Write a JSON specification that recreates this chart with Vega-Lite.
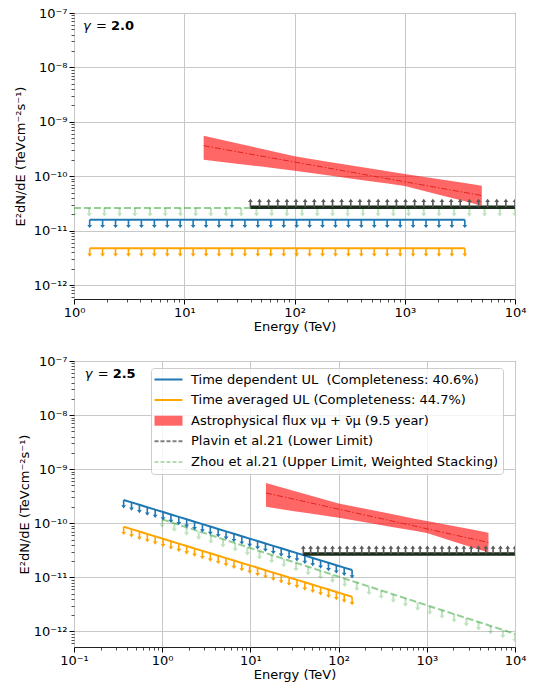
{
"$schema": "https://vega.github.io/schema/vega-lite/v6.json",
"padding": {"left": 13, "top": 6, "right": 5, "bottom": 5},
"spacing": 20,
"align": "none",
"config": {
  "font": "DejaVu Sans",
  "view": {"stroke": "#222222", "strokeWidth": 1},
  "axis": {"labelFont": "DejaVu Sans", "labelFontSize": 13, "labelColor": "#000000", "titleFont": "DejaVu Sans", "titleFontSize": 13, "titleFontWeight": "normal", "titleColor": "#000000", "domain": false, "tickColor": "#000000", "gridColor": "#c8c8c8", "gridWidth": 1, "labelFlush": false, "labelOverlap": false, "labelBound": false}
},
"resolve": {"scale": {"x": "independent", "y": "independent", "color": "independent"}},
"datasets": {
  "band": [
    {"E": 15, "F": 5.55e-10, "lo": 2.01e-10},
    {"E": 30, "F": 4.04e-10, "lo": 1.69e-10},
    {"E": 50, "F": 3.19e-10, "lo": 1.50e-10},
    {"E": 100, "F": 2.32e-10, "lo": 1.26e-10},
    {"E": 200, "F": 1.85e-10, "lo": 1.04e-10},
    {"E": 400, "F": 1.48e-10, "lo": 8.55e-11},
    {"E": 700, "F": 1.23e-10, "lo": 7.31e-11},
    {"E": 1000, "F": 1.10e-10, "lo": 6.61e-11},
    {"E": 2000, "F": 8.87e-11, "lo": 4.61e-11},
    {"E": 3500, "F": 7.47e-11, "lo": 3.45e-11},
    {"E": 5000, "F": 6.68e-11, "lo": 2.87e-11}
  ],
  "mid": [
    {"E": 15, "F": 3.63e-10},
    {"E": 5000, "F": 4.41e-11}
  ],
  "top": [
    {"s":"td","E":1.387,"F":1.585e-11},{"s":"td","E":1.817,"F":1.585e-11},{"s":"td","E":2.381,"F":1.585e-11},{"s":"td","E":3.119,"F":1.585e-11},{"s":"td","E":4.087,"F":1.585e-11},{"s":"td","E":5.355,"F":1.585e-11},{"s":"td","E":7.015,"F":1.585e-11},{"s":"td","E":9.192,"F":1.585e-11},{"s":"td","E":12.04,"F":1.585e-11},{"s":"td","E":15.78,"F":1.585e-11},{"s":"td","E":20.67,"F":1.585e-11},{"s":"td","E":27.08,"F":1.585e-11},{"s":"td","E":35.49,"F":1.585e-11},{"s":"td","E":46.49,"F":1.585e-11},{"s":"td","E":60.93,"F":1.585e-11},{"s":"td","E":79.83,"F":1.585e-11},{"s":"td","E":104.6,"F":1.585e-11},{"s":"td","E":137.1,"F":1.585e-11},{"s":"td","E":179.6,"F":1.585e-11},{"s":"td","E":235.3,"F":1.585e-11},{"s":"td","E":308.3,"F":1.585e-11},{"s":"td","E":403.7,"F":1.585e-11},{"s":"td","E":529.1,"F":1.585e-11},{"s":"td","E":693.1,"F":1.585e-11},{"s":"td","E":908.3,"F":1.585e-11},{"s":"td","E":1190,"F":1.585e-11},{"s":"td","E":1559,"F":1.585e-11},{"s":"td","E":2043,"F":1.585e-11},{"s":"td","E":2676,"F":1.585e-11},{"s":"td","E":3507,"F":1.585e-11},
    {"s":"ta","E":1.387,"F":4.73e-12},{"s":"ta","E":1.817,"F":4.73e-12},{"s":"ta","E":2.381,"F":4.73e-12},{"s":"ta","E":3.119,"F":4.73e-12},{"s":"ta","E":4.087,"F":4.73e-12},{"s":"ta","E":5.355,"F":4.73e-12},{"s":"ta","E":7.015,"F":4.73e-12},{"s":"ta","E":9.192,"F":4.73e-12},{"s":"ta","E":12.04,"F":4.73e-12},{"s":"ta","E":15.78,"F":4.73e-12},{"s":"ta","E":20.67,"F":4.73e-12},{"s":"ta","E":27.08,"F":4.73e-12},{"s":"ta","E":35.49,"F":4.73e-12},{"s":"ta","E":46.49,"F":4.73e-12},{"s":"ta","E":60.93,"F":4.73e-12},{"s":"ta","E":79.83,"F":4.73e-12},{"s":"ta","E":104.6,"F":4.73e-12},{"s":"ta","E":137.1,"F":4.73e-12},{"s":"ta","E":179.6,"F":4.73e-12},{"s":"ta","E":235.3,"F":4.73e-12},{"s":"ta","E":308.3,"F":4.73e-12},{"s":"ta","E":403.7,"F":4.73e-12},{"s":"ta","E":529.1,"F":4.73e-12},{"s":"ta","E":693.1,"F":4.73e-12},{"s":"ta","E":908.3,"F":4.73e-12},{"s":"ta","E":1190,"F":4.73e-12},{"s":"ta","E":1559,"F":4.73e-12},{"s":"ta","E":2043,"F":4.73e-12},{"s":"ta","E":2676,"F":4.73e-12},{"s":"ta","E":3507,"F":4.73e-12},
    {"s":"zhou","E":1,"F":2.6e-11},{"s":"zhou","E":1.374,"F":2.6e-11},{"s":"zhou","E":1.888,"F":2.6e-11},{"s":"zhou","E":2.593,"F":2.6e-11},{"s":"zhou","E":3.563,"F":2.6e-11},{"s":"zhou","E":4.894,"F":2.6e-11},{"s":"zhou","E":6.723,"F":2.6e-11},{"s":"zhou","E":9.237,"F":2.6e-11},{"s":"zhou","E":12.69,"F":2.6e-11},{"s":"zhou","E":17.43,"F":2.6e-11},{"s":"zhou","E":23.95,"F":2.6e-11},{"s":"zhou","E":32.90,"F":2.6e-11},{"s":"zhou","E":45.20,"F":2.6e-11},{"s":"zhou","E":62.10,"F":2.6e-11},{"s":"zhou","E":85.31,"F":2.6e-11},{"s":"zhou","E":117.2,"F":2.6e-11},{"s":"zhou","E":161.0,"F":2.6e-11},{"s":"zhou","E":221.2,"F":2.6e-11},{"s":"zhou","E":303.9,"F":2.6e-11},{"s":"zhou","E":417.5,"F":2.6e-11},{"s":"zhou","E":573.6,"F":2.6e-11},{"s":"zhou","E":788.0,"F":2.6e-11},{"s":"zhou","E":1083,"F":2.6e-11},{"s":"zhou","E":1487,"F":2.6e-11},{"s":"zhou","E":2043,"F":2.6e-11},{"s":"zhou","E":2807,"F":2.6e-11},{"s":"zhou","E":3857,"F":2.6e-11},{"s":"zhou","E":5298,"F":2.6e-11},{"s":"zhou","E":7279,"F":2.6e-11},{"s":"zhou","E":10000,"F":2.6e-11},
    {"s":"plavin","E":39.81,"F":2.7e-11},{"s":"plavin","E":48.18,"F":2.7e-11},{"s":"plavin","E":58.29,"F":2.7e-11},{"s":"plavin","E":70.52,"F":2.7e-11},{"s":"plavin","E":85.31,"F":2.7e-11},{"s":"plavin","E":103.2,"F":2.7e-11},{"s":"plavin","E":124.9,"F":2.7e-11},{"s":"plavin","E":151.1,"F":2.7e-11},{"s":"plavin","E":182.9,"F":2.7e-11},{"s":"plavin","E":221.2,"F":2.7e-11},{"s":"plavin","E":267.7,"F":2.7e-11},{"s":"plavin","E":323.8,"F":2.7e-11},{"s":"plavin","E":391.8,"F":2.7e-11},{"s":"plavin","E":474.1,"F":2.7e-11},{"s":"plavin","E":573.6,"F":2.7e-11},{"s":"plavin","E":694.0,"F":2.7e-11},{"s":"plavin","E":839.7,"F":2.7e-11},{"s":"plavin","E":1016,"F":2.7e-11},{"s":"plavin","E":1229,"F":2.7e-11},{"s":"plavin","E":1487,"F":2.7e-11},{"s":"plavin","E":1799,"F":2.7e-11},{"s":"plavin","E":2177,"F":2.7e-11},{"s":"plavin","E":2634,"F":2.7e-11},{"s":"plavin","E":3187,"F":2.7e-11},{"s":"plavin","E":3857,"F":2.7e-11},{"s":"plavin","E":4667,"F":2.7e-11},{"s":"plavin","E":5646,"F":2.7e-11},{"s":"plavin","E":6832,"F":2.7e-11},{"s":"plavin","E":8266,"F":2.7e-11},{"s":"plavin","E":10000,"F":2.7e-11}
  ],
  "bot": [
    {"s":"td","E":0.3656,"F":2.692e-10},{"s":"td","E":0.4491,"F":2.428e-10},{"s":"td","E":0.5516,"F":2.191e-10},{"s":"td","E":0.6775,"F":1.977e-10},{"s":"td","E":0.8322,"F":1.784e-10},{"s":"td","E":1.022,"F":1.609e-10},{"s":"td","E":1.256,"F":1.452e-10},{"s":"td","E":1.542,"F":1.310e-10},{"s":"td","E":1.895,"F":1.182e-10},{"s":"td","E":2.327,"F":1.067e-10},{"s":"td","E":2.858,"F":9.626e-11},{"s":"td","E":3.511,"F":8.685e-11},{"s":"td","E":4.313,"F":7.837e-11},{"s":"td","E":5.297,"F":7.071e-11},{"s":"td","E":6.507,"F":6.380e-11},{"s":"td","E":7.992,"F":5.757e-11},{"s":"td","E":9.817,"F":5.194e-11},{"s":"td","E":12.06,"F":4.687e-11},{"s":"td","E":14.81,"F":4.229e-11},{"s":"td","E":18.19,"F":3.816e-11},{"s":"td","E":22.35,"F":3.443e-11},{"s":"td","E":27.45,"F":3.106e-11},{"s":"td","E":33.72,"F":2.803e-11},{"s":"td","E":41.42,"F":2.529e-11},{"s":"td","E":50.87,"F":2.282e-11},{"s":"td","E":62.49,"F":2.059e-11},{"s":"td","E":76.76,"F":1.858e-11},{"s":"td","E":94.27,"F":1.676e-11},{"s":"td","E":115.8,"F":1.512e-11},{"s":"td","E":142.2,"F":1.365e-11},
    {"s":"ta","E":0.3656,"F":8.63e-11},{"s":"ta","E":0.4491,"F":7.784e-11},{"s":"ta","E":0.5516,"F":7.024e-11},{"s":"ta","E":0.6775,"F":6.338e-11},{"s":"ta","E":0.8322,"F":5.719e-11},{"s":"ta","E":1.022,"F":5.160e-11},{"s":"ta","E":1.256,"F":4.655e-11},{"s":"ta","E":1.542,"F":4.200e-11},{"s":"ta","E":1.895,"F":3.789e-11},{"s":"ta","E":2.327,"F":3.420e-11},{"s":"ta","E":2.858,"F":3.086e-11},{"s":"ta","E":3.511,"F":2.784e-11},{"s":"ta","E":4.313,"F":2.513e-11},{"s":"ta","E":5.297,"F":2.267e-11},{"s":"ta","E":6.507,"F":2.045e-11},{"s":"ta","E":7.992,"F":1.846e-11},{"s":"ta","E":9.817,"F":1.665e-11},{"s":"ta","E":12.06,"F":1.503e-11},{"s":"ta","E":14.81,"F":1.356e-11},{"s":"ta","E":18.19,"F":1.223e-11},{"s":"ta","E":22.35,"F":1.104e-11},{"s":"ta","E":27.45,"F":9.958e-12},{"s":"ta","E":33.72,"F":8.986e-12},{"s":"ta","E":41.42,"F":8.108e-12},{"s":"ta","E":50.87,"F":7.316e-12},{"s":"ta","E":62.49,"F":6.601e-12},{"s":"ta","E":76.76,"F":5.957e-12},{"s":"ta","E":94.27,"F":5.373e-12},{"s":"ta","E":115.8,"F":4.847e-12},{"s":"ta","E":142.2,"F":4.376e-12},
    {"s":"zhou","E":1,"F":1.178e-10},{"s":"zhou","E":1.374,"F":9.955e-11},{"s":"zhou","E":1.888,"F":8.413e-11},{"s":"zhou","E":2.593,"F":7.112e-11},{"s":"zhou","E":3.563,"F":6.011e-11},{"s":"zhou","E":4.894,"F":5.082e-11},{"s":"zhou","E":6.723,"F":4.297e-11},{"s":"zhou","E":9.237,"F":3.633e-11},{"s":"zhou","E":12.69,"F":3.070e-11},{"s":"zhou","E":17.43,"F":2.596e-11},{"s":"zhou","E":23.95,"F":2.194e-11},{"s":"zhou","E":32.90,"F":1.855e-11},{"s":"zhou","E":45.20,"F":1.568e-11},{"s":"zhou","E":62.10,"F":1.325e-11},{"s":"zhou","E":85.31,"F":1.121e-11},{"s":"zhou","E":117.2,"F":9.474e-12},{"s":"zhou","E":161.0,"F":8.008e-12},{"s":"zhou","E":221.2,"F":6.770e-12},{"s":"zhou","E":303.9,"F":5.723e-12},{"s":"zhou","E":417.5,"F":4.837e-12},{"s":"zhou","E":573.6,"F":4.089e-12},{"s":"zhou","E":788.0,"F":3.457e-12},{"s":"zhou","E":1083,"F":2.922e-12},{"s":"zhou","E":1487,"F":2.470e-12},{"s":"zhou","E":2043,"F":2.088e-12},{"s":"zhou","E":2807,"F":1.765e-12},{"s":"zhou","E":3857,"F":1.492e-12},{"s":"zhou","E":5298,"F":1.261e-12},{"s":"zhou","E":7279,"F":1.066e-12},{"s":"zhou","E":10000,"F":9.015e-13},
    {"s":"plavin","E":39.81,"F":2.7e-11},{"s":"plavin","E":48.18,"F":2.7e-11},{"s":"plavin","E":58.29,"F":2.7e-11},{"s":"plavin","E":70.52,"F":2.7e-11},{"s":"plavin","E":85.31,"F":2.7e-11},{"s":"plavin","E":103.2,"F":2.7e-11},{"s":"plavin","E":124.9,"F":2.7e-11},{"s":"plavin","E":151.1,"F":2.7e-11},{"s":"plavin","E":182.9,"F":2.7e-11},{"s":"plavin","E":221.2,"F":2.7e-11},{"s":"plavin","E":267.7,"F":2.7e-11},{"s":"plavin","E":323.8,"F":2.7e-11},{"s":"plavin","E":391.8,"F":2.7e-11},{"s":"plavin","E":474.1,"F":2.7e-11},{"s":"plavin","E":573.6,"F":2.7e-11},{"s":"plavin","E":694.0,"F":2.7e-11},{"s":"plavin","E":839.7,"F":2.7e-11},{"s":"plavin","E":1016,"F":2.7e-11},{"s":"plavin","E":1229,"F":2.7e-11},{"s":"plavin","E":1487,"F":2.7e-11},{"s":"plavin","E":1799,"F":2.7e-11},{"s":"plavin","E":2177,"F":2.7e-11},{"s":"plavin","E":2634,"F":2.7e-11},{"s":"plavin","E":3187,"F":2.7e-11},{"s":"plavin","E":3857,"F":2.7e-11},{"s":"plavin","E":4667,"F":2.7e-11},{"s":"plavin","E":5646,"F":2.7e-11},{"s":"plavin","E":6832,"F":2.7e-11},{"s":"plavin","E":8266,"F":2.7e-11},{"s":"plavin","E":10000,"F":2.7e-11}
  ]
},
"vconcat": [
  {
    "width": 441, "height": 286,
    "layer": [
      {"data": {"name": "band"}, "mark": {"type": "area", "color": "#ff0000", "opacity": 0.6, "clip": true},
        "encoding": {
          "x": {"field": "E", "type": "quantitative",
            "scale": {"type": "log", "domain": [1, 10000], "nice": false},
            "axis": {"title": "Energy (TeV)", "titlePadding": 1, "labelPadding": 2,
              "values": [1,2,3,4,5,6,7,8,9,10,20,30,40,50,60,70,80,90,100,200,300,400,500,600,700,800,900,1000,2000,3000,4000,5000,6000,7000,8000,9000,10000],
              "labelExpr": "abs(log(datum.value)/LN10 - round(log(datum.value)/LN10)) < 0.001 ? '10' + replace(replace(replace(replace(replace(replace(replace(replace(replace(replace(replace(toString(round(log(datum.value)/LN10)), '-', '⁻'), regexp('0','g'), '⁰'), regexp('1','g'), '¹'), regexp('2','g'), '²'), regexp('3','g'), '³'), regexp('4','g'), '⁴'), regexp('5','g'), '⁵'), regexp('6','g'), '⁶'), regexp('7','g'), '⁷'), regexp('8','g'), '⁸'), regexp('9','g'), '⁹') : ''",
              "tickSize": {"condition": {"test": "abs(log(datum.value)/LN10 - round(log(datum.value)/LN10)) < 0.001", "value": 5}, "value": 3},
              "tickWidth": {"condition": {"test": "abs(log(datum.value)/LN10 - round(log(datum.value)/LN10)) < 0.001", "value": 1}, "value": 0.7},
              "gridOpacity": {"condition": {"test": "abs(log(datum.value)/LN10 - round(log(datum.value)/LN10)) < 0.001", "value": 1}, "value": 0}
            }
          },
          "y": {"field": "F", "type": "quantitative",
            "scale": {"type": "log", "domain": [5.53e-13, 1e-7], "nice": false},
            "axis": {"title": "E²dN/dE (TeVcm⁻²s⁻¹)", "titlePadding": 6, "labelPadding": 2,
              "values": [6e-13,7e-13,8e-13,9e-13,1e-12,2e-12,3e-12,4e-12,5e-12,6e-12,7e-12,8e-12,9e-12,1e-11,2e-11,3e-11,4e-11,5e-11,6e-11,7e-11,8e-11,9e-11,1e-10,2e-10,3e-10,4e-10,5e-10,6e-10,7e-10,8e-10,9e-10,1e-9,2e-9,3e-9,4e-9,5e-9,6e-9,7e-9,8e-9,9e-9,1e-8,2e-8,3e-8,4e-8,5e-8,6e-8,7e-8,8e-8,9e-8,1e-7],
              "labelExpr": "abs(log(datum.value)/LN10 - round(log(datum.value)/LN10)) < 0.001 ? '10' + replace(replace(replace(replace(replace(replace(replace(replace(replace(replace(replace(toString(round(log(datum.value)/LN10)), '-', '⁻'), regexp('0','g'), '⁰'), regexp('1','g'), '¹'), regexp('2','g'), '²'), regexp('3','g'), '³'), regexp('4','g'), '⁴'), regexp('5','g'), '⁵'), regexp('6','g'), '⁶'), regexp('7','g'), '⁷'), regexp('8','g'), '⁸'), regexp('9','g'), '⁹') : ''",
              "tickSize": {"condition": {"test": "abs(log(datum.value)/LN10 - round(log(datum.value)/LN10)) < 0.001", "value": 5}, "value": 3},
              "tickWidth": {"condition": {"test": "abs(log(datum.value)/LN10 - round(log(datum.value)/LN10)) < 0.001", "value": 1}, "value": 0.7},
              "gridOpacity": {"condition": {"test": "abs(log(datum.value)/LN10 - round(log(datum.value)/LN10)) < 0.001", "value": 1}, "value": 0}
            }
          },
          "y2": {"field": "lo"}
        }
      },
      {"data": {"name": "mid"}, "mark": {"type": "line", "color": "#e3241f", "strokeWidth": 1, "strokeDash": [6, 2, 1.5, 2], "clip": true}, "encoding": {"x": {"field": "E", "type": "quantitative"}, "y": {"field": "F", "type": "quantitative"}}},
      {"data": {"name": "top"}, "transform": [{"filter": "datum.s === 'zhou'"}], "mark": {"type": "line", "color": "#2ca02c", "opacity": 0.5, "strokeWidth": 2, "strokeDash": [7, 3], "clip": true}, "encoding": {"x": {"field": "E", "type": "quantitative"}, "y": {"field": "F", "type": "quantitative"}}},
      {"data": {"name": "top"}, "transform": [{"filter": "datum.s === 'zhou'"}], "mark": {"type": "point", "shape": "M-0.25,0L0.25,0L0.25,1.3L0.65,1.3L0,2.1L-0.65,1.3L-0.25,1.3Z", "size": 64, "filled": true, "color": "#2ca02c", "opacity": 0.3, "strokeWidth": 0, "clip": true}, "encoding": {"x": {"field": "E", "type": "quantitative"}, "y": {"field": "F", "type": "quantitative"}}},
      {"data": {"name": "top"}, "transform": [{"filter": "datum.s === 'td'"}], "mark": {"type": "line", "color": "#1f77b4", "strokeWidth": 2, "clip": true}, "encoding": {"x": {"field": "E", "type": "quantitative"}, "y": {"field": "F", "type": "quantitative"}}},
      {"data": {"name": "top"}, "transform": [{"filter": "datum.s === 'td'"}], "mark": {"type": "point", "shape": "M-0.2,0L0.2,0L0.2,1.3L0.6,1.3L0,2.1L-0.6,1.3L-0.2,1.3Z", "size": 64, "filled": true, "color": "#1f77b4", "opacity": 1, "strokeWidth": 0, "clip": true}, "encoding": {"x": {"field": "E", "type": "quantitative"}, "y": {"field": "F", "type": "quantitative"}}},
      {"data": {"name": "top"}, "transform": [{"filter": "datum.s === 'ta'"}], "mark": {"type": "line", "color": "#ffa500", "strokeWidth": 2, "clip": true}, "encoding": {"x": {"field": "E", "type": "quantitative"}, "y": {"field": "F", "type": "quantitative"}}},
      {"data": {"name": "top"}, "transform": [{"filter": "datum.s === 'ta'"}], "mark": {"type": "point", "shape": "M-0.2,0L0.2,0L0.2,1.3L0.6,1.3L0,2.1L-0.6,1.3L-0.2,1.3Z", "size": 64, "filled": true, "color": "#ffa500", "opacity": 1, "strokeWidth": 0, "clip": true}, "encoding": {"x": {"field": "E", "type": "quantitative"}, "y": {"field": "F", "type": "quantitative"}}},
      {"data": {"name": "top"}, "transform": [{"filter": "datum.s === 'plavin'"}], "mark": {"type": "line", "color": "#1b2d1b", "strokeWidth": 3.5, "clip": true}, "encoding": {"x": {"field": "E", "type": "quantitative"}, "y": {"field": "F", "type": "quantitative"}}},
      {"data": {"name": "top"}, "transform": [{"filter": "datum.s === 'plavin'"}], "mark": {"type": "point", "shape": "M-0.2,0L0.2,0L0.2,-1.3L0.6,-1.3L0,-2.1L-0.6,-1.3L-0.2,-1.3Z", "size": 64, "filled": true, "color": "#585858", "opacity": 1, "strokeWidth": 0, "clip": true}, "encoding": {"x": {"field": "E", "type": "quantitative"}, "y": {"field": "F", "type": "quantitative"}}},
      {"data": {"values": [{}]}, "mark": {"type": "text", "text": "γ", "font": "DejaVu Sans", "fontStyle": "italic", "fontSize": 13, "align": "left", "baseline": "middle", "color": "#000000"}, "encoding": {"x": {"datum": 1.207, "type": "quantitative"}, "y": {"datum": 5.77e-8, "type": "quantitative"}}},
      {"data": {"values": [{}]}, "mark": {"type": "text", "text": "=", "font": "DejaVu Sans", "fontSize": 13, "align": "left", "baseline": "middle", "dx": 13, "color": "#000000"}, "encoding": {"x": {"datum": 1.207, "type": "quantitative"}, "y": {"datum": 5.77e-8, "type": "quantitative"}}},
      {"data": {"values": [{}]}, "mark": {"type": "text", "text": "2.0", "font": "DejaVu Sans", "fontWeight": "bold", "fontSize": 13, "align": "left", "baseline": "middle", "dx": 28, "color": "#000000"}, "encoding": {"x": {"datum": 1.207, "type": "quantitative"}, "y": {"datum": 5.77e-8, "type": "quantitative"}}}
    ]
  },
  {
    "width": 441, "height": 286,
    "layer": [
      {"data": {"name": "band"}, "mark": {"type": "area", "color": "#ff0000", "opacity": 0.6, "clip": true},
        "encoding": {
          "x": {"field": "E", "type": "quantitative",
            "scale": {"type": "log", "domain": [0.1, 10000], "nice": false},
            "axis": {"title": "Energy (TeV)", "titlePadding": 1, "labelPadding": 2,
              "values": [0.1,0.2,0.3,0.4,0.5,0.6,0.7,0.8,0.9,1,2,3,4,5,6,7,8,9,10,20,30,40,50,60,70,80,90,100,200,300,400,500,600,700,800,900,1000,2000,3000,4000,5000,6000,7000,8000,9000,10000],
              "labelExpr": "abs(log(datum.value)/LN10 - round(log(datum.value)/LN10)) < 0.001 ? '10' + replace(replace(replace(replace(replace(replace(replace(replace(replace(replace(replace(toString(round(log(datum.value)/LN10)), '-', '⁻'), regexp('0','g'), '⁰'), regexp('1','g'), '¹'), regexp('2','g'), '²'), regexp('3','g'), '³'), regexp('4','g'), '⁴'), regexp('5','g'), '⁵'), regexp('6','g'), '⁶'), regexp('7','g'), '⁷'), regexp('8','g'), '⁸'), regexp('9','g'), '⁹') : ''",
              "tickSize": {"condition": {"test": "abs(log(datum.value)/LN10 - round(log(datum.value)/LN10)) < 0.001", "value": 5}, "value": 3},
              "tickWidth": {"condition": {"test": "abs(log(datum.value)/LN10 - round(log(datum.value)/LN10)) < 0.001", "value": 1}, "value": 0.7},
              "gridOpacity": {"condition": {"test": "abs(log(datum.value)/LN10 - round(log(datum.value)/LN10)) < 0.001", "value": 1}, "value": 0}
            }
          },
          "y": {"field": "F", "type": "quantitative",
            "scale": {"type": "log", "domain": [5.15e-13, 1e-7], "nice": false},
            "axis": {"title": "E²dN/dE (TeVcm⁻²s⁻¹)", "titlePadding": 2, "labelPadding": 2,
              "values": [6e-13,7e-13,8e-13,9e-13,1e-12,2e-12,3e-12,4e-12,5e-12,6e-12,7e-12,8e-12,9e-12,1e-11,2e-11,3e-11,4e-11,5e-11,6e-11,7e-11,8e-11,9e-11,1e-10,2e-10,3e-10,4e-10,5e-10,6e-10,7e-10,8e-10,9e-10,1e-9,2e-9,3e-9,4e-9,5e-9,6e-9,7e-9,8e-9,9e-9,1e-8,2e-8,3e-8,4e-8,5e-8,6e-8,7e-8,8e-8,9e-8,1e-7],
              "labelExpr": "abs(log(datum.value)/LN10 - round(log(datum.value)/LN10)) < 0.001 ? '10' + replace(replace(replace(replace(replace(replace(replace(replace(replace(replace(replace(toString(round(log(datum.value)/LN10)), '-', '⁻'), regexp('0','g'), '⁰'), regexp('1','g'), '¹'), regexp('2','g'), '²'), regexp('3','g'), '³'), regexp('4','g'), '⁴'), regexp('5','g'), '⁵'), regexp('6','g'), '⁶'), regexp('7','g'), '⁷'), regexp('8','g'), '⁸'), regexp('9','g'), '⁹') : ''",
              "tickSize": {"condition": {"test": "abs(log(datum.value)/LN10 - round(log(datum.value)/LN10)) < 0.001", "value": 5}, "value": 3},
              "tickWidth": {"condition": {"test": "abs(log(datum.value)/LN10 - round(log(datum.value)/LN10)) < 0.001", "value": 1}, "value": 0.7},
              "gridOpacity": {"condition": {"test": "abs(log(datum.value)/LN10 - round(log(datum.value)/LN10)) < 0.001", "value": 1}, "value": 0}
            }
          },
          "y2": {"field": "lo"}
        }
      },
      {"data": {"name": "mid"}, "mark": {"type": "line", "color": "#e3241f", "strokeWidth": 1, "strokeDash": [6, 2, 1.5, 2], "clip": true}, "encoding": {"x": {"field": "E", "type": "quantitative"}, "y": {"field": "F", "type": "quantitative"}}},
      {"data": {"name": "bot"}, "transform": [{"filter": "datum.s === 'zhou'"}], "mark": {"type": "line", "color": "#2ca02c", "opacity": 0.5, "strokeWidth": 2, "strokeDash": [7, 3], "clip": true}, "encoding": {"x": {"field": "E", "type": "quantitative"}, "y": {"field": "F", "type": "quantitative"}}},
      {"data": {"name": "bot"}, "transform": [{"filter": "datum.s === 'zhou'"}], "mark": {"type": "point", "shape": "M-0.25,0L0.25,0L0.25,1.3L0.65,1.3L0,2.1L-0.65,1.3L-0.25,1.3Z", "size": 64, "filled": true, "color": "#2ca02c", "opacity": 0.3, "strokeWidth": 0, "clip": true}, "encoding": {"x": {"field": "E", "type": "quantitative"}, "y": {"field": "F", "type": "quantitative"}}},
      {"data": {"name": "bot"}, "transform": [{"filter": "datum.s === 'td' || datum.s === 'ta'"}], "mark": {"type": "line", "strokeWidth": 2, "clip": true},
        "encoding": {"x": {"field": "E", "type": "quantitative"}, "y": {"field": "F", "type": "quantitative"},
          "color": {"field": "s", "type": "nominal",
          "scale": {"domain": ["td", "ta", "astro", "plavin", "zhou"], "range": ["#1f77b4", "#ffa500", "#ff6666", "#808080", "#b5dcb5"]},
          "legend": {"title": null, "orient": "none", "legendX": 77, "legendY": 7, "padding": 5,
            "fillColor": "rgba(255,255,255,0.8)", "strokeColor": "#cccccc", "cornerRadius": 3,
            "labelFont": "DejaVu Sans", "labelFontSize": 13, "labelColor": "#000000", "labelLimit": 600,
            "symbolType": "stroke", "symbolSize": 100, "symbolStrokeWidth": 2, "symbolOffset": 6, "labelOffset": 16, "rowPadding": 6.6,
            "labelExpr": "datum.value === 'td' ? 'Time dependent UL \u00a0(Completeness: 40.6%)' : datum.value === 'ta' ? 'Time averaged UL (Completeness: 44.7%)' : datum.value === 'astro' ? 'Astrophysical flux νμ + ν̄μ (9.5 year)' : datum.value === 'plavin' ? 'Plavin et al.21 (Lower Limit)' : 'Zhou et al.21 (Upper Limit, Weighted Stacking)'",
            "encode": {"symbols": {"update": {
              "shape": {"signal": "datum.value === 'astro' ? 'M-2.8,-1L2.8,-1L2.8,1L-2.8,1Z' : 'M-2.8,0L2.8,0'"},
              "fill": {"signal": "datum.value === 'astro' ? '#ff6666' : 'transparent'"},
              "strokeWidth": {"signal": "datum.value === 'astro' ? 0 : 2"},
              "strokeDash": {"signal": "(datum.value === 'plavin' || datum.value === 'zhou') ? [4, 2] : [1, 0]"},
              "opacity": {"value": 1}
            }}}
          }
        }}
      },
      {"data": {"name": "bot"}, "transform": [{"filter": "datum.s === 'td'"}], "mark": {"type": "point", "shape": "M-0.2,0L0.2,0L0.2,1.3L0.6,1.3L0,2.1L-0.6,1.3L-0.2,1.3Z", "size": 64, "filled": true, "color": "#1f77b4", "opacity": 1, "strokeWidth": 0, "clip": true}, "encoding": {"x": {"field": "E", "type": "quantitative"}, "y": {"field": "F", "type": "quantitative"}}},
      {"data": {"name": "bot"}, "transform": [{"filter": "datum.s === 'ta'"}], "mark": {"type": "point", "shape": "M-0.2,0L0.2,0L0.2,1.3L0.6,1.3L0,2.1L-0.6,1.3L-0.2,1.3Z", "size": 64, "filled": true, "color": "#ffa500", "opacity": 1, "strokeWidth": 0, "clip": true}, "encoding": {"x": {"field": "E", "type": "quantitative"}, "y": {"field": "F", "type": "quantitative"}}},
      {"data": {"name": "bot"}, "transform": [{"filter": "datum.s === 'plavin'"}], "mark": {"type": "line", "color": "#1b2d1b", "strokeWidth": 3.5, "clip": true}, "encoding": {"x": {"field": "E", "type": "quantitative"}, "y": {"field": "F", "type": "quantitative"}}},
      {"data": {"name": "bot"}, "transform": [{"filter": "datum.s === 'plavin'"}], "mark": {"type": "point", "shape": "M-0.2,0L0.2,0L0.2,-1.3L0.6,-1.3L0,-2.1L-0.6,-1.3L-0.2,-1.3Z", "size": 64, "filled": true, "color": "#585858", "opacity": 1, "strokeWidth": 0, "clip": true}, "encoding": {"x": {"field": "E", "type": "quantitative"}, "y": {"field": "F", "type": "quantitative"}}},
      {"data": {"values": [{}]}, "mark": {"type": "text", "text": "γ", "font": "DejaVu Sans", "fontStyle": "italic", "fontSize": 13, "align": "left", "baseline": "middle", "color": "#000000"}, "encoding": {"x": {"datum": 0.132, "type": "quantitative"}, "y": {"datum": 5.65e-8, "type": "quantitative"}}},
      {"data": {"values": [{}]}, "mark": {"type": "text", "text": "=", "font": "DejaVu Sans", "fontSize": 13, "align": "left", "baseline": "middle", "dx": 13, "color": "#000000"}, "encoding": {"x": {"datum": 0.132, "type": "quantitative"}, "y": {"datum": 5.65e-8, "type": "quantitative"}}},
      {"data": {"values": [{}]}, "mark": {"type": "text", "text": "2.5", "font": "DejaVu Sans", "fontWeight": "bold", "fontSize": 13, "align": "left", "baseline": "middle", "dx": 28, "color": "#000000"}, "encoding": {"x": {"datum": 0.132, "type": "quantitative"}, "y": {"datum": 5.65e-8, "type": "quantitative"}}}
    ]
  }
]
}
